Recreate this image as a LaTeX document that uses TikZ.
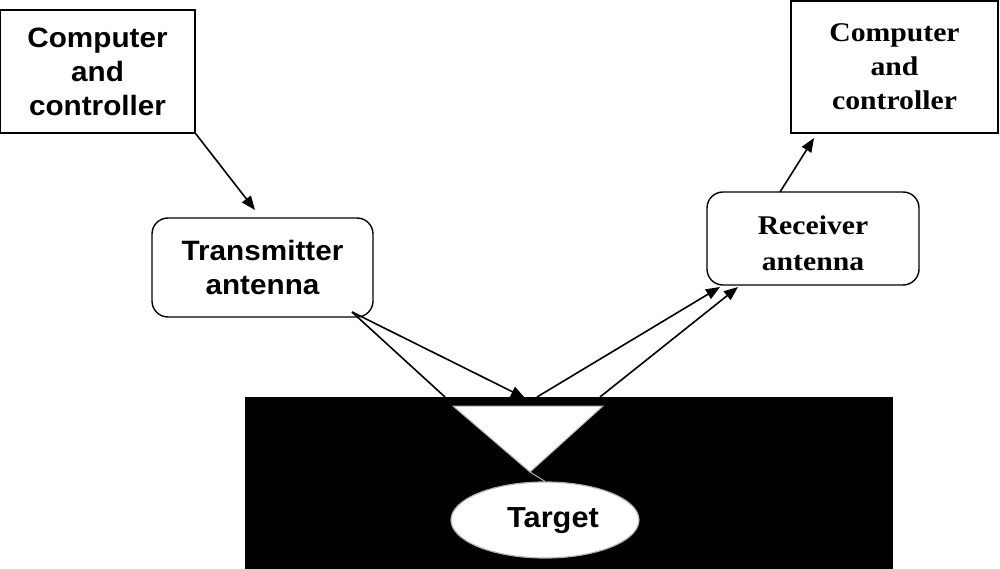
\documentclass[tikz,border=0pt]{standalone}
\usepackage{fontspec}
\setmainfont[FakeStretch=1.1]{Liberation Serif}
\setsansfont[FakeStretch=1.06]{Liberation Sans}
\usetikzlibrary{arrows.meta,shapes.geometric}
\begin{document}
\begin{tikzpicture}[x=1pt,y=-1pt,
  sanstext/.style={font=\sffamily\bfseries\fontsize{28}{34}\selectfont,align=center},
  seriftext/.style={font=\rmfamily\bfseries\fontsize{27}{34}\selectfont,align=center},
  sqbox/.style={draw,line width=1.6pt,inner sep=0pt},
  rbox/.style={draw,line width=1.4pt,rounded corners=16pt,inner sep=0pt},
  arr/.style={line width=1.6pt,-{Triangle[length=14pt,width=11pt]}},
  ln/.style={line width=1.6pt}]
\useasboundingbox (0,0) rectangle (1000,569);
\fill[white] (0,0) rectangle (1000,569);
% boxes
\node[sqbox,sanstext,minimum width=195pt,minimum height=123pt] (cc1) at (97.5,71.5) {Computer\\and\\controller};
\node[rbox,sanstext,minimum width=221pt,minimum height=99pt] (tx) at (262.5,267.5) {Transmitter\\antenna};
\node[sqbox,seriftext,minimum width=207pt,minimum height=132pt] (cc2) at (894.5,67) {Computer\\and\\controller};
\node[rbox,minimum width=212pt,minimum height=93pt] (rx) at (813,238.5) {};
\node[seriftext,font=\rmfamily\bfseries\fontsize{27}{36}\selectfont,inner sep=0pt] (rxt) at (813,243) {Receiver\\antenna};
% coordinates
\coordinate (a1) at (255,210);
\coordinate (t1) at (352,312);
\coordinate (g1) at (445,397);
\coordinate (g2) at (525,398);
\coordinate (g3) at (537,397);
\coordinate (g4) at (600,397);
\coordinate (r1) at (720,287);
\coordinate (r2) at (738,287);
\coordinate (rxo) at (780,192);
\coordinate (cci) at (814,138);
% ground
\fill[black] (245,397) rectangle (893,569);
\filldraw[fill=white,draw=gray!60,line width=1pt] (453,406) -- (603,406) -- (530,472) -- cycle;
\node[ellipse,draw=gray!60,line width=1.2pt,fill=white,minimum width=188pt,minimum height=76pt,inner sep=0pt] (tg) at (545,520) {};
\node[font=\sffamily\bfseries\fontsize{29}{34}\selectfont,inner sep=0pt] (tgt) at (553,521) {Target};
\draw[gray!60,line width=1pt] (530,472) -- (tg.north);
% connectors
\draw[arr] (cc1.south east) -- (a1);
\draw[ln] (t1) -- (g1);
\draw[arr] (t1) -- (g2);
\draw[arr] (g3) -- (r1);
\draw[arr] (g4) -- (r2);
\draw[arr] (rxo) -- (cci);
\end{tikzpicture}
\end{document}
